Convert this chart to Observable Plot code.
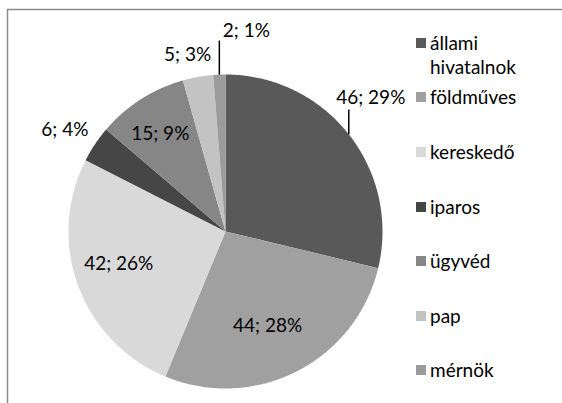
<!DOCTYPE html>
<html><head><meta charset="utf-8">
<script src="https://cdn.jsdelivr.net/npm/d3@7"></script>
<script src="https://cdn.jsdelivr.net/npm/@observablehq/plot@0.6"></script>
<style>
html,body{margin:0;padding:0;background:#fff;overflow:hidden;}
#wrap{position:relative;width:562px;height:403px;font-family:Lato, "Open Sans", sans-serif;color:#000;}
#legend{position:absolute;left:416px;top:0;font-size:19px;line-height:24px;}
.item{position:absolute;left:0;white-space:nowrap;}
.sw{position:absolute;left:0;top:7px;width:10px;height:10px;}
.lt{position:absolute;left:14px;top:0;}
</style></head><body><div id="wrap"></div>
<script>
const categories = ["állami hivatalnok","földműves","kereskedő","iparos","ügyvéd","pap","mérnök"];
const legendLines = [["állami","hivatalnok"],["földműves"],["kereskedő"],["iparos"],["ügyvéd"],["pap"],["mérnök"]];
const values = [46,44,42,6,15,5,2];
const colors = ["#595959","#a0a0a0","#d9d9d9","#464646","#868686","#c3c3c3","#9b9b9b"];
// label placement: radius factor (in pie radii), angle shift (degrees), or leader line
const labelRadius = [null,0.66,0.71,1.21,0.75,1.15,null];
const labelShift = [0,3,3.5,-1.5,-1,-2,0];
const leaderLength = [0.158,0,0,0,0,0,0.217];
const leaderDx = [22,0,0,0,0,0,27];
const leaderDy = [-12,0,0,0,0,0,-10];

const total = d3.sum(values);
const pie = d3.pie().sort(null).value(d=>d)(values);
const pts = [];
pie.forEach((p,i)=>{
  pts.push({cat:categories[i],x:0,y:0});
  const n = Math.max(2, Math.ceil((p.endAngle-p.startAngle)/(Math.PI/360)));
  for(let j=0;j<=n;j++){
    const a = p.startAngle + (p.endAngle-p.startAngle)*j/n;
    pts.push({cat:categories[i],x:Math.sin(a),y:Math.cos(a)});
  }
});
const labelText = values.map(v=>`${v}; ${Math.round(v/total*100)}%`);
const mid = pie.map(p=>(p.startAngle+p.endAngle)/2);
const plain = [], leaders = [], leaderLabels = [];
values.forEach((v,i)=>{
  const a = mid[i] + labelShift[i]*Math.PI/180;
  if(labelRadius[i]!=null){
    plain.push({x:labelRadius[i]*Math.sin(a), y:labelRadius[i]*Math.cos(a), text:labelText[i]});
  } else {
    const ex = Math.sin(a), ey = Math.cos(a);
    leaders.push({x1:ex,y1:ey,x2:ex,y2:ey+leaderLength[i]});
    leaderLabels.push({x:ex,y:ey+leaderLength[i],text:labelText[i],dx:leaderDx[i],dy:leaderDy[i]});
  }
});

const chart = Plot.plot({
  width:562, height:403, margin:0,
  style:{fontFamily:"Lato, 'Open Sans', sans-serif", background:"transparent", overflow:"visible"},
  x:{domain:[-1,1], range:[68,382], axis:null},
  y:{domain:[-1,1], range:[388,74], axis:null},
  color:{domain:categories, range:colors},
  marks:[
    Plot.frame({stroke:"#8a8a8a", strokeWidth:1.5, insetLeft:7, insetTop:9, insetRight:-20, insetBottom:-20}),
    Plot.line(pts,{x:"x",y:"y",z:"cat",fill:"cat",stroke:"none",curve:"linear-closed"}),
    Plot.link(leaders,{x1:"x1",y1:"y1",x2:"x2",y2:"y2",stroke:"#000",strokeWidth:1.5}),
    Plot.text(plain,{x:"x",y:"y",text:"text",fontSize:19,fill:"#000"}),
    ...leaderLabels.map(d=>Plot.text([d],{x:"x",y:"y",text:"text",fontSize:19,fill:"#000",dx:d.dx,dy:d.dy}))
  ]
});
const wrap = document.getElementById("wrap");
wrap.appendChild(chart);
const legend = document.createElement("div");
legend.id="legend";
const rowTop = [31,85,140,195,249,304,358];
categories.forEach((c,i)=>{
  const it = document.createElement("div");
  it.className="item"; it.style.top = rowTop[i]+"px";
  const sw = document.createElement("div"); sw.className="sw"; sw.style.background=colors[i];
  const lt = document.createElement("div"); lt.className="lt"; lt.innerHTML = legendLines[i].join("<br>");
  it.appendChild(sw); it.appendChild(lt); legend.appendChild(it);
});
wrap.appendChild(legend);
</script></body></html>
